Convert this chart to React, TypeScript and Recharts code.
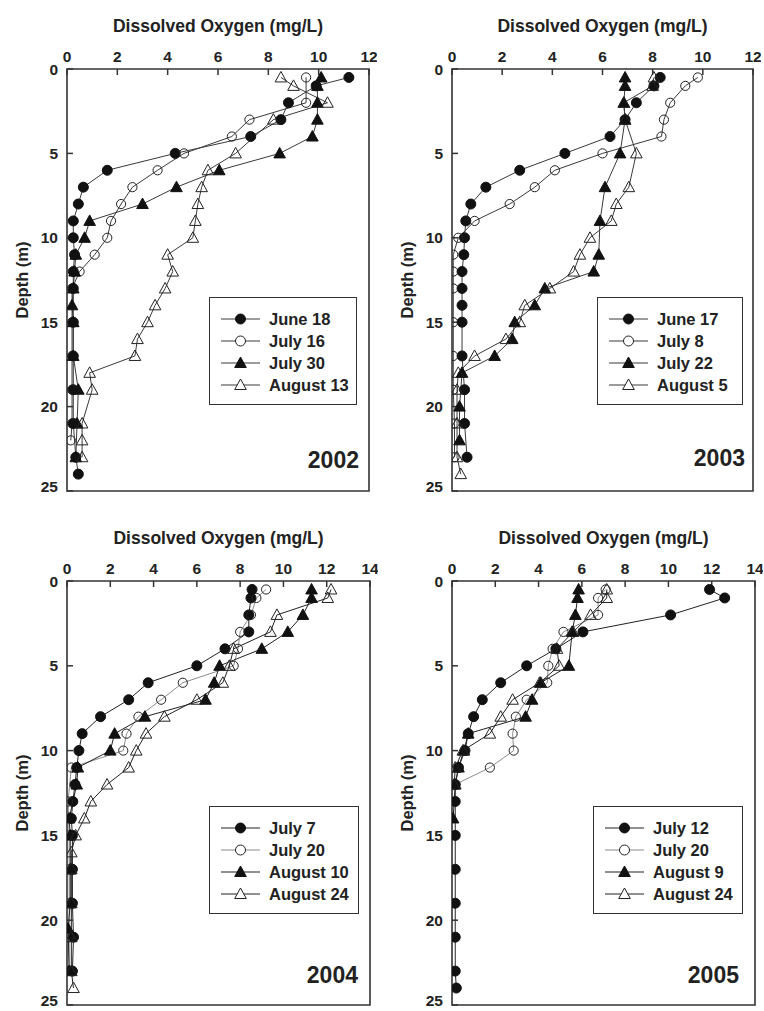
import React from 'react';
import { LineChart, Line, XAxis, YAxis, ReferenceArea, Legend } from 'recharts';

// ---- data: [depth (m), dissolved oxygen (mg/L)] ----
const y2002_june18 = [[0.5,11.2],[1,9.9],[2,8.8],[3,8.5],[4,7.3],[5,4.3],[6,1.6],[7,0.65],[8,0.45],[9,0.25],[10,0.25],[11,0.3],[12,0.25],[13,0.25],[15,0.25],[17,0.25],[19,0.25],[21,0.25],[23,0.35],[24,0.45]];
const y2002_july16 = [[0.5,9.5],[2,9.5],[3,7.25],[4,6.55],[5,4.65],[6,3.6],[7,2.6],[8,2.15],[9,1.75],[10,1.6],[11,1.1],[12,0.5],[13,0.2],[15,0.2],[17,0.2],[19,0.2],[21,0.2],[22,0.15]];
const y2002_july30 = [[0.5,10.1],[1,9.95],[2,9.95],[3,9.95],[4,9.75],[5,8.45],[6,6.05],[7,4.35],[8,3.0],[9,0.9],[10,0.7],[11,0.35],[12,0.3],[13,0.25],[14,0.2],[15,0.25],[17,0.25],[19,0.45],[21,0.4],[23,0.35]];
const y2002_aug13 = [[0.5,8.5],[1,9.0],[2,10.35],[3,8.2],[5,6.7],[6,5.6],[7,5.35],[8,5.2],[9,5.1],[10,5.0],[11,4.0],[12,4.2],[13,3.9],[14,3.5],[15,3.2],[16,2.8],[17,2.7],[18,0.9],[19,1.0],[21,0.6],[22,0.6],[23,0.6]];

const y2003_june17 = [[0.5,8.3],[1,8.05],[2,7.35],[3,6.9],[4,6.3],[5,4.5],[6,2.7],[7,1.35],[8,0.75],[9,0.55],[10,0.5],[11,0.47],[12,0.4],[13,0.4],[14,0.4],[15,0.4],[17,0.4],[19,0.5],[21,0.5],[23,0.6]];
const y2003_july8 = [[0.5,9.8],[1,9.3],[2,8.7],[3,8.45],[4,8.35],[5,6.0],[6,4.1],[7,3.3],[8,2.3],[9,0.9],[10,0.25],[11,0.05],[12,0.05],[13,0.05],[15,0.05],[17,0.05],[19,0.05],[21,0.1],[23,0.1]];
const y2003_july22 = [[0.5,6.9],[1,6.9],[2,6.85],[3,6.9],[5,6.7],[7,6.1],[9,5.9],[11,5.85],[12,5.65],[13,3.7],[14,3.3],[15,2.5],[16,2.4],[17,1.7],[18,0.4],[20,0.3],[22,0.3]];
const y2003_aug5 = [[0.5,8.05],[1,8.0],[2,6.85],[3,6.9],[5,7.35],[7,7.05],[8,6.55],[9,6.35],[10,5.5],[11,5.1],[12,4.85],[13,3.9],[14,2.9],[15,2.7],[16,2.15],[17,0.9],[18,0.25],[19,0.2],[21,0.2],[23,0.2],[24,0.35]];

const y2004_july7 = [[0.5,8.55],[1,8.5],[2,8.4],[3,8.4],[4,7.3],[5,6.0],[6,3.75],[7,2.85],[8,1.55],[9,0.7],[10,0.55],[11,0.45],[12,0.37],[13,0.27],[14,0.2],[15,0.25],[17,0.25],[19,0.25],[21,0.3],[23,0.25]];
const y2004_july20 = [[0.5,9.2],[1,8.75],[2,8.5],[3,8.0],[4,7.9],[5,7.7],[6,5.35],[7,4.35],[8,3.3],[9,2.75],[10,2.6],[11,0.2],[13,0.05],[15,0.1],[17,0.1],[19,0.1],[21,0.1],[23,0.1]];
const y2004_aug10 = [[0.5,11.3],[1,11.3],[2,10.9],[3,10.2],[4,9.0],[5,7.05],[6,6.8],[7,6.4],[8,3.6],[9,2.2],[10,2.0],[11,0.5],[12,0.45],[14,0.1],[15,0.15],[17,0.15],[19,0.15],[20.5,0.05],[23,0.1]];
const y2004_aug24 = [[0.5,12.2],[1,12.05],[2,9.7],[3,9.4],[4,7.7],[5,7.5],[6,7.2],[7,6.0],[8,4.5],[9,3.65],[10,3.2],[11,2.85],[12,1.85],[13,1.1],[14,0.8],[15,0.4],[16,0.2],[17,0.2],[19,0.2],[21,0.2],[23,0.2],[24,0.3]];

const y2005_july12 = [[0.5,11.9],[1,12.6],[2,10.1],[3,6.05],[4,4.8],[5,3.45],[6,2.25],[7,1.4],[8,1.0],[9,0.75],[10,0.6],[11,0.3],[12,0.15],[13,0.15],[15,0.15],[17,0.15],[19,0.15],[21,0.15],[23,0.15],[24,0.2]];
const y2005_july20 = [[0.5,7.1],[1,6.75],[2,6.75],[3,5.15],[4,4.65],[5,4.45],[6,4.4],[7,3.45],[8,2.95],[9,2.8],[10,2.85],[11,1.75],[12,0.15]];
const y2005_aug9 = [[0.5,5.85],[1,5.8],[2,5.7],[3,5.55],[5,5.4],[6,4.1],[7,3.7],[8,3.4],[9,0.75],[10,0.55],[11,0.3],[12,0.15],[14,0.05]];
const y2005_aug24 = [[0.5,7.15],[1,7.15],[2,6.4],[3,5.6],[4,4.85],[5,4.95],[6,4.05],[7,2.8],[8,2.25],[9,1.75],[10,0.5],[11,0.15],[12,0.1]];

const depthTicks = [0, 5, 10, 15, 20, 25];
const xTicksTop = [0, 2, 4, 6, 8, 10, 12];
const xTicksBottom = [0, 2, 4, 6, 8, 10, 12, 14];

const FONT = '"Liberation Sans", Arial, Helvetica, sans-serif';

type Kind = 'cf' | 'co' | 'tf' | 'to';
type Series = { name: string; kind: Kind; data: number[][]; stroke: string };

const toPts = (rows: number[][]) => rows.map(([d, v]) => ({ d, v }));

function marker(kind: Kind, cx: number, cy: number, key?: string) {
  if (kind === 'cf') return <circle key={key} cx={cx} cy={cy} r={5} fill="#111" stroke="#111" strokeWidth={1} />;
  if (kind === 'co') return <circle key={key} cx={cx} cy={cy} r={4.6} fill="none" stroke="#222" strokeWidth={1} />;
  const pts = `${cx},${cy - 6} ${cx - 5.8},${cy + 4.5} ${cx + 5.8},${cy + 4.5}`;
  if (kind === 'tf') return <polygon key={key} points={pts} fill="#111" stroke="#111" strokeWidth={1} />;
  return <polygon key={key} points={pts} fill="none" stroke="#222" strokeWidth={1} />;
}

type PanelProps = {
  plotX: number; plotY: number; plotW: number; plotH: number;
  xMax: number; xTicks: number[]; series: Series[];
  legendX: number; legendY: number; legendW: number;
  year: string; yearRight: number; yearBaseline: number;
};

function Panel(p: PanelProps) {
  const chartLeft = p.plotX - 67;
  const chartTop = p.plotY - 69;
  const width = p.plotW + 67 + 8;
  const height = p.plotH + 69 + 4;
  const tickStyle = { fill: '#222', fontSize: 15.5, fontWeight: 'bold', fontFamily: FONT };
  const legendContent = () => (
    <div style={{ border: '1.5px solid #333', background: '#fff', width: p.legendW, boxSizing: 'border-box', paddingTop: 10, paddingBottom: 8, fontFamily: FONT }}>
      {p.series.map((s) => (
        <div key={s.name} style={{ display: 'flex', alignItems: 'center', height: 22 }}>
          <svg width={50} height={22} style={{ marginLeft: 11, flex: 'none' }}>
            <line x1={0} y1={11} x2={39} y2={11} stroke={s.stroke} strokeWidth={1.2} />
            {s.kind === 'co' || s.kind === 'to' ? (
              s.kind === 'co' ? <circle cx={19.5} cy={11} r={5} fill="#fff" stroke="#222" /> : <polygon points={`19.5,5 13.7,15.5 25.3,15.5`} fill="#fff" stroke="#222" />
            ) : marker(s.kind, 19.5, 11)}
          </svg>
          <span style={{ fontSize: 16.5, fontWeight: 'bold', color: '#222', marginLeft: -2, whiteSpace: 'nowrap' }}>{s.name}</span>
        </div>
      ))}
    </div>
  );
  return (
    <div style={{ position: 'absolute', left: chartLeft, top: chartTop, width, height }}>
      <LineChart width={width} height={height} margin={{ top: 9, left: 7, right: 8, bottom: 4 }}>
        <XAxis
          type="number" dataKey="v" orientation="top" domain={[0, p.xMax]} ticks={p.xTicks}
          height={60} tickSize={-6} tickMargin={13} axisLine={false} allowDataOverflow
          tick={tickStyle} tickLine={{ stroke: '#333', strokeWidth: 1.5 }}
          label={{ value: 'Dissolved Oxygen (mg/L)', position: 'insideTop', offset: 11, style: { fill: '#222', fontSize: 17.5, fontWeight: 'bold', fontFamily: FONT } }}
        />
        <YAxis
          type="number" dataKey="d" reversed domain={[0, 25]} ticks={depthTicks}
          width={60} tickSize={-6} tickMargin={15} axisLine={false} allowDataOverflow
          tick={tickStyle} tickLine={{ stroke: '#333', strokeWidth: 1.5 }}
          label={{ value: 'Depth (m)', angle: -90, position: 'insideLeft', offset: 15, style: { textAnchor: 'middle', fill: '#222', fontSize: 16.5, fontWeight: 'bold', fontFamily: FONT } }}
        />
        <ReferenceArea x1={0} x2={p.xMax} y1={0} y2={25} fill="none" stroke="#333" strokeWidth={1.6} ifOverflow="visible" />
        {p.series.map((s) => (
          <Line
            key={s.name}
            name={s.name}
            data={toPts(s.data)}
            dataKey="d"
            type="linear"
            stroke={s.stroke}
            strokeWidth={1}
            isAnimationActive={false}
            legendType="none"
            dot={(dp: any) => marker(s.kind, dp.cx, dp.cy, `${s.name}-${dp.index}`)}
            activeDot={false}
          />
        ))}
        <Legend
          layout="vertical" align="center" verticalAlign="middle"
          wrapperStyle={{ left: p.legendX, top: p.legendY, width: p.legendW, bottom: 'auto', right: 'auto' }}
          content={legendContent}
        />
      </LineChart>
      <div style={{ position: 'absolute', left: p.yearRight - 120, width: 120, top: p.yearBaseline - 19.5, lineHeight: '23px', textAlign: 'right', fontFamily: FONT, fontWeight: 'bold', fontSize: 23, color: '#222' }}>
        {p.year}
      </div>
    </div>
  );
}

const LINE = '#3a3a3a';
const LIGHT = '#8c8c8c';

const s2002: Series[] = [
  { name: 'June 18', kind: 'cf', data: y2002_june18, stroke: LINE },
  { name: 'July 16', kind: 'co', data: y2002_july16, stroke: LINE },
  { name: 'July 30', kind: 'tf', data: y2002_july30, stroke: LINE },
  { name: 'August 13', kind: 'to', data: y2002_aug13, stroke: LINE },
];
const s2003: Series[] = [
  { name: 'June 17', kind: 'cf', data: y2003_june17, stroke: LINE },
  { name: 'July 8', kind: 'co', data: y2003_july8, stroke: LINE },
  { name: 'July 22', kind: 'tf', data: y2003_july22, stroke: LINE },
  { name: 'August 5', kind: 'to', data: y2003_aug5, stroke: LINE },
];
const s2004: Series[] = [
  { name: 'July 7', kind: 'cf', data: y2004_july7, stroke: '#222' },
  { name: 'July 20', kind: 'co', data: y2004_july20, stroke: LIGHT },
  { name: 'August 10', kind: 'tf', data: y2004_aug10, stroke: '#222' },
  { name: 'August 24', kind: 'to', data: y2004_aug24, stroke: '#222' },
];
const s2005: Series[] = [
  { name: 'July 12', kind: 'cf', data: y2005_july12, stroke: '#222' },
  { name: 'July 20', kind: 'co', data: y2005_july20, stroke: LIGHT },
  { name: 'August 9', kind: 'tf', data: y2005_aug9, stroke: '#222' },
  { name: 'August 24', kind: 'to', data: y2005_aug24, stroke: '#222' },
];

export default function App() {
  return (
    <div style={{ position: 'absolute', left: 0, top: 0, width: 764, height: 1011, overflow: 'hidden', background: '#fff' }}>
      <Panel plotX={67} plotY={69} plotW={302} plotH={422} xMax={12} xTicks={xTicksTop} series={s2002}
        legendX={209} legendY={297} legendW={148} year="2002" yearRight={359} yearBaseline={468} />
      <Panel plotX={452} plotY={69} plotW={301} plotH={422} xMax={12} xTicks={xTicksTop} series={s2003}
        legendX={212} legendY={297} legendW={146} year="2003" yearRight={360} yearBaseline={466} />
      <Panel plotX={67} plotY={581} plotW={303} plotH={424} xMax={14} xTicks={xTicksBottom} series={s2004}
        legendX={209} legendY={294} legendW={150} year="2004" yearRight={358} yearBaseline={471} />
      <Panel plotX={452} plotY={581} plotW={303} plotH={424} xMax={14} xTicks={xTicksBottom} series={s2005}
        legendX={208} legendY={294} legendW={150} year="2005" yearRight={354} yearBaseline={471} />
    </div>
  );
}
